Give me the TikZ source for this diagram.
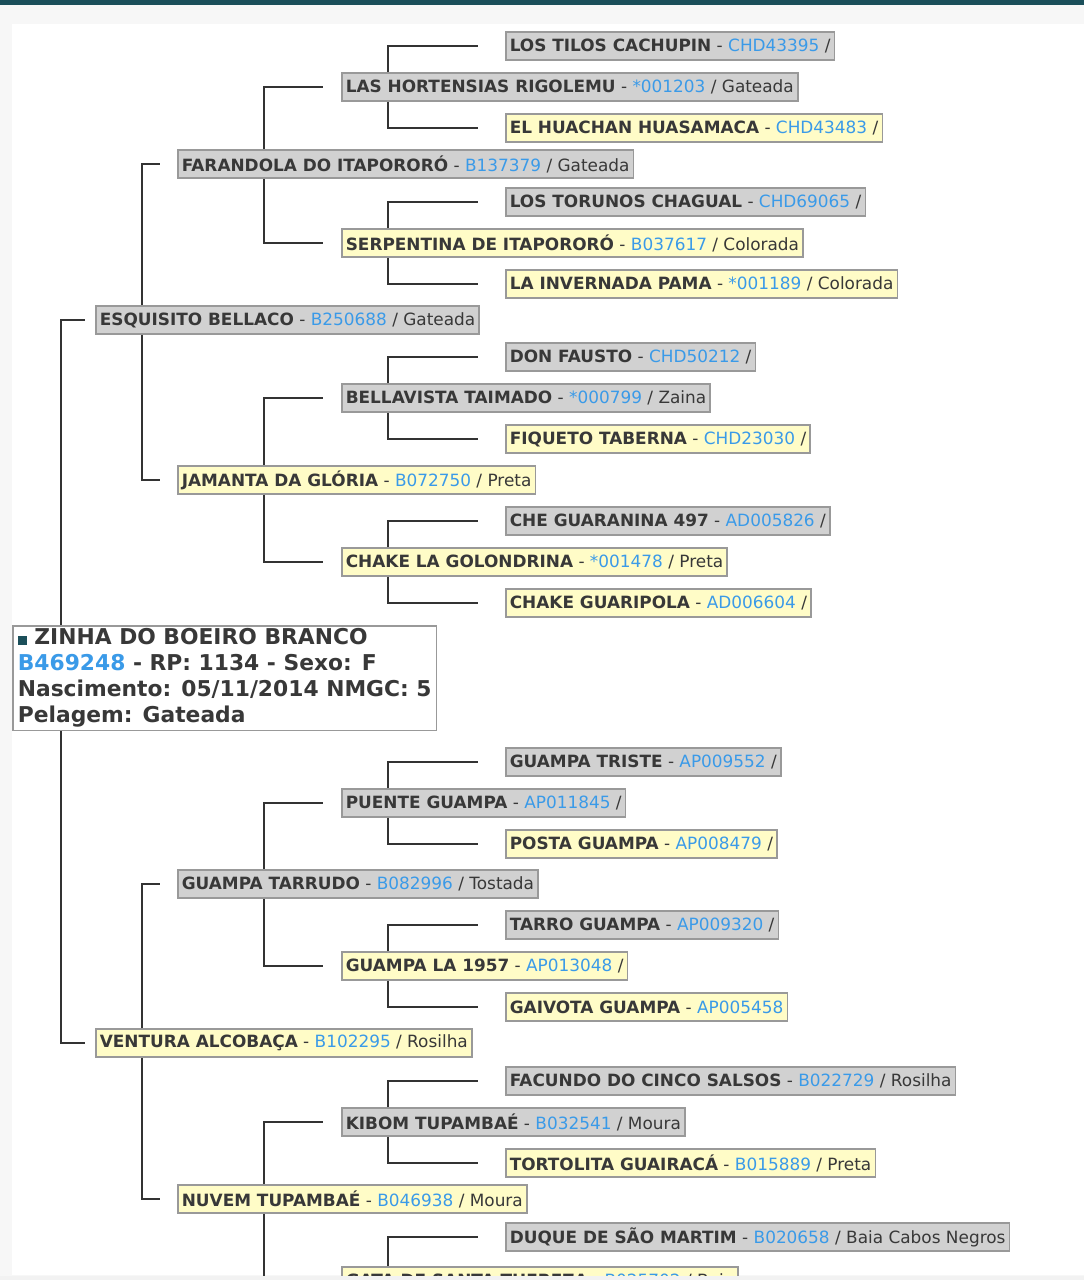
\documentclass[tikz,border=0pt]{standalone}
\usepackage{fontspec}
\setmainfont{DejaVu Sans}
\begin{document}
\begin{tikzpicture}[x=1pt,y=-1pt,
  bx/.style={anchor=west,draw=black!40,line width=1.6pt,inner xsep=4pt,inner ysep=4pt,minimum height=28pt,text=black!78,font=\fontsize{16.9}{18}\selectfont},
  m/.style={bx,fill=black!18},
  f/.style={bx,fill=yellow!22},
  ln/.style={line width=1.6pt,black!80}]
\definecolor{cb}{HTML}{3A9AE8}
\definecolor{teal}{HTML}{1B4F5A}
\useasboundingbox (0,0) rectangle (1084,1280);
\fill[black!3] (0,0) rectangle (1084,1280);
\fill[white] (12,24) rectangle (1084,1275);
\fill[teal] (0,0) rectangle (1084,5);
\newcommand{\nm}[3]{\textbf{#1} - \textcolor{cb}{#2}#3}
\begin{scope}
\clip (0,0) rectangle (1084,1276);
% gen4
\node[m] (a1) at (505,46) {\nm{LOS TILOS CACHUPIN}{CHD43395}{ /}};
\node[f] (a2) at (505,128) {\nm{EL HUACHAN HUASAMACA}{CHD43483}{ /}};
\node[m] (a3) at (505,202) {\nm{LOS TORUNOS CHAGUAL}{CHD69065}{ /}};
\node[f] (a4) at (505,284) {\nm{LA INVERNADA PAMA}{*001189}{ / Colorada}};
\node[m] (a5) at (505,357) {\nm{DON FAUSTO}{CHD50212}{ /}};
\node[f] (a6) at (505,439) {\nm{FIQUETO TABERNA}{CHD23030}{ /}};
\node[m] (a7) at (505,521) {\nm{CHE GUARANINA 497}{AD005826}{ /}};
\node[f] (a8) at (505,603) {\nm{CHAKE GUARIPOLA}{AD006604}{ /}};
\node[m] (a9) at (505,762) {\nm{GUAMPA TRISTE}{AP009552}{ /}};
\node[f] (a10) at (505,844) {\nm{POSTA GUAMPA}{AP008479}{ /}};
\node[m] (a11) at (505,925) {\nm{TARRO GUAMPA}{AP009320}{ /}};
\node[f] (a12) at (505,1007) {\nm{GAIVOTA GUAMPA}{AP005458}{}};
\node[m] (a13) at (505,1081) {\nm{FACUNDO DO CINCO SALSOS}{B022729}{ / Rosilha}};
\node[f] (a14) at (505,1163) {\nm{TORTOLITA GUAIRACÁ}{B015889}{ / Preta}};
\node[m] (a15) at (505,1237) {\nm{DUQUE DE SÃO MARTIM}{B020658}{ / Baia Cabos Negros}};
% gen3
\node[m] (b1) at (341,87) {\nm{LAS HORTENSIAS RIGOLEMU}{*001203}{ / Gateada}};
\node[f] (b2) at (341,243) {\nm{SERPENTINA DE ITAPORORÓ}{B037617}{ / Colorada}};
\node[m] (b3) at (341,398) {\nm{BELLAVISTA TAIMADO}{*000799}{ / Zaina}};
\node[f] (b4) at (341,562) {\nm{CHAKE LA GOLONDRINA}{*001478}{ / Preta}};
\node[m] (b5) at (341,803) {\nm{PUENTE GUAMPA}{AP011845}{ /}};
\node[f] (b6) at (341,966) {\nm{GUAMPA LA 1957}{AP013048}{ /}};
\node[m] (b7) at (341,1122) {\nm{KIBOM TUPAMBAÉ}{B032541}{ / Moura}};
\node[f] (b8) at (341,1281) {\nm{GATA DE SANTA THEREZA}{B025702}{ / Baia}};
% gen2
\node[m] (c1) at (177,164) {\nm{FARANDOLA DO ITAPORORÓ}{B137379}{ / Gateada}};
\node[f] (c2) at (177,480) {\nm{JAMANTA DA GLÓRIA}{B072750}{ / Preta}};
\node[m] (c3) at (177,884) {\nm{GUAMPA TARRUDO}{B082996}{ / Tostada}};
\node[f] (c4) at (177,1199) {\nm{NUVEM TUPAMBAÉ}{B046938}{ / Moura}};
% gen1
\node[m] (d1) at (95,320) {\nm{ESQUISITO BELLACO}{B250688}{ / Gateada}};
\node[f] (d2) at (95,1043) {\nm{VENTURA ALCOBAÇA}{B102295}{ / Rosilha}};
% main
\node[draw=black!40,line width=1.6pt,fill=white,anchor=north west,align=left,inner xsep=5pt,inner ysep=3pt,text=black!78,
  font=\fontsize{21.8}{26}\selectfont\bfseries] (z) at (12,625)
 {\textcolor{teal}{\rule{9pt}{9pt}} ZINHA DO BOEIRO BRANCO\\\textcolor{cb}{B469248} - RP: 1134 - Sexo: F\\Nascimento: 05/11/2014 NMGC: 5\\Pelagem: Gateada};
% connectors
\coordinate (x4) at (388,0);
\coordinate (x3) at (264,0);
\coordinate (x2) at (142,0);
\coordinate (x1) at (61,0);
\foreach \p/\s/\d in {b1/a1/a2,b2/a3/a4,b3/a5/a6,b4/a7/a8,b5/a9/a10,b6/a11/a12,b7/a13/a14}{
  \draw[ln] (x4 |- \p.north) |- ([xshift=-27pt]\s.west);
  \draw[ln] (x4 |- \p.south) |- ([xshift=-27pt]\d.west);}
\draw[ln] (x4 |- b8.north) |- ([xshift=-27pt]a15.west);
\foreach \p/\s/\d in {c1/b1/b2,c2/b3/b4,c3/b5/b6,c4/b7/b8}{
  \draw[ln] (x3 |- \p.north) |- ([xshift=-18pt]\s.west);
  \draw[ln] (x3 |- \p.south) |- ([xshift=-18pt]\d.west);}
\foreach \p/\s/\d in {d1/c1/c2,d2/c3/c4}{
  \draw[ln] (x2 |- \p.north) |- ([xshift=-17pt]\s.west);
  \draw[ln] (x2 |- \p.south) |- ([xshift=-17pt]\d.west);}
\draw[ln] (x1 |- z.north) |- ([xshift=-10pt]d1.west);
\draw[ln] (x1 |- z.south) |- ([xshift=-10pt]d2.west);
\end{scope}
\fill[black!5] (0,1276) rectangle (1084,1280);
\end{tikzpicture}
\end{document}
